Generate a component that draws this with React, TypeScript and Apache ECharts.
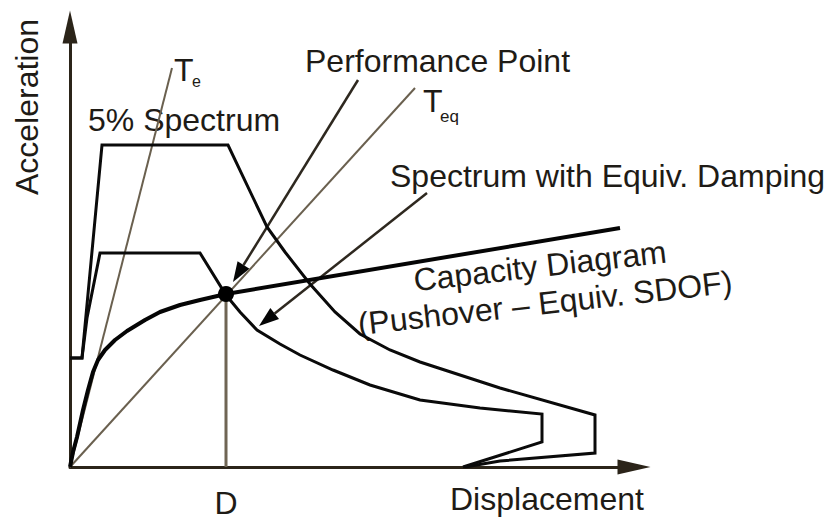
import React, { useEffect, useRef } from 'react';
import * as echarts from 'echarts';

// Schematic capacity-spectrum data: [displacement, acceleration] in chart units
const spectrum5pct: [number, number][] = [
  [0, 109], [12, 109], [32, 322], [158, 322], [197, 240], [215, 215], [240, 183],
  [265, 155], [290, 133], [320, 117], [350, 105], [430, 79], [525, 52],
  [525, 14], [430, 6], [395, 0],
];
const spectrumEquivDamping: [number, number][] = [
  [0, 109], [12, 109], [17, 149], [30, 214], [130, 214], [156, 172], [170, 155],
  [187, 137], [210, 123], [230, 112], [263, 97], [300, 82], [350, 67], [410, 59],
  [472, 53], [472, 25], [393, 0],
];
const capacityDiagram: [number, number][] = [
  [0, 0], [3, 15], [7, 30], [13, 57], [18, 77], [23, 95], [28, 107], [35, 117],
  [45, 127], [57, 136], [75, 147], [90, 155], [110, 162], [130, 167], [156, 173],
  [550, 239],
];
const performancePoint: [number, number][] = [[156, 173]];
const lineTe: [number, number][] = [[0, 0], [102, 399]];
const lineTeq: [number, number][] = [[0, 0], [345, 379]];
const lineD: [number, number][] = [[156, 0], [156, 173]];
// pointer arrows: [tailX, tailY, tipX, tipY]
const pointerArrows: number[][] = [
  [288, 387, 163, 185],
  [357, 274, 189, 141],
];
const xTickValues = [156];
const xTickLabels = ['D'];

const FONT = '"Liberation Sans", Arial, Helvetica, sans-serif';
const TXT = '#1e1b16';

export default function App() {
  const ref = useRef<HTMLDivElement>(null);
  useEffect(() => {
    if (!ref.current) return;
    const chart = echarts.init(ref.current, undefined, { renderer: 'svg' });
    const axisColor = '#2b2419';
    const txt = (text: string, x: number, y: number, extra: any = {}, size = 32, align = 'left') => ({
      type: 'text',
      x,
      y,
      ...extra,
      style: {
        text,
        fontSize: size,
        fontFamily: FONT,
        fill: TXT,
        align,
        verticalAlign: 'middle',
        textAlign: align,
        textVerticalAlign: 'middle',
      },
    });
    const option: any = {
      animation: false,
      backgroundColor: '#ffffff',
      grid: { left: 70, top: 27, right: 206, bottom: 53 },
      xAxis: {
        type: 'value',
        min: 0,
        max: 564,
        splitLine: { show: false },
        axisTick: { show: false },
        axisLabel: {
          show: true,
          customValues: xTickValues,
          formatter: (v: number) => xTickLabels[xTickValues.indexOf(v)] ?? '',
          fontSize: 32,
          fontFamily: FONT,
          color: TXT,
          margin: 20,
        },
        axisLine: {
          show: true,
          onZero: false,
          symbol: ['none', 'triangle'],
          symbolSize: [15, 33],
          lineStyle: { color: axisColor, width: 3 },
        },
      },
      yAxis: {
        type: 'value',
        min: 0,
        max: 440,
        splitLine: { show: false },
        axisTick: { show: false },
        axisLabel: { show: false },
        axisLine: {
          show: true,
          onZero: false,
          symbol: ['none', 'triangle'],
          symbolSize: [15, 33],
          lineStyle: { color: axisColor, width: 3 },
        },
      },
      series: [
        {
          type: 'line', name: 'Te', data: lineTe, showSymbol: false,
          lineStyle: { color: '#6a604f', width: 2 },
        },
        {
          type: 'line', name: 'Teq', data: lineTeq, showSymbol: false,
          lineStyle: { color: '#6a604f', width: 2 },
        },
        {
          type: 'line', name: 'D', data: lineD, showSymbol: false,
          lineStyle: { color: '#6f6554', width: 3 },
        },
        {
          type: 'line', name: '5% Spectrum', data: spectrum5pct, showSymbol: false,
          lineStyle: { color: '#0a0a0a', width: 3, join: 'miter' },
        },
        {
          type: 'line', name: 'Spectrum with Equiv. Damping', data: spectrumEquivDamping, showSymbol: false,
          lineStyle: { color: '#0a0a0a', width: 3, join: 'miter' },
        },
        {
          type: 'line', name: 'Capacity Diagram', data: capacityDiagram, showSymbol: false,
          lineStyle: { color: '#050505', width: 4 },
        },
        {
          type: 'custom',
          name: 'pointers',
          data: pointerArrows,
          renderItem: (params: any, api: any) => {
            const tail = api.coord([api.value(0), api.value(1)]);
            const tip = api.coord([api.value(2), api.value(3)]);
            const dx = tip[0] - tail[0];
            const dy = tip[1] - tail[1];
            const len = Math.hypot(dx, dy);
            const ux = dx / len;
            const uy = dy / len;
            const L = 20;
            const W = 7;
            const bx = tip[0] - ux * L;
            const by = tip[1] - uy * L;
            return {
              type: 'group',
              children: [
                {
                  type: 'line',
                  shape: { x1: tail[0], y1: tail[1], x2: bx, y2: by },
                  style: { stroke: '#2e281f', lineWidth: 2.5 },
                },
                {
                  type: 'polygon',
                  shape: {
                    points: [
                      [tip[0], tip[1]],
                      [bx - uy * W, by + ux * W],
                      [bx + uy * W, by - ux * W],
                    ],
                  },
                  style: { fill: '#050505' },
                },
              ],
            };
          },
        },
        {
          type: 'scatter', name: 'Performance Point', data: performancePoint,
          symbol: 'circle', symbolSize: 16, z: 5,
          itemStyle: { color: '#000000', opacity: 1 },
        },
      ],
      graphic: [
        txt('Acceleration', 27, 107, { rotation: Math.PI / 2 }, 32, 'center'),
        txt('5% Spectrum', 88, 120),
        txt('Performance Point', 305, 61),
        txt('T', 174, 70),
        txt('e', 192, 81, {}, 16),
        txt('T', 423, 101),
        txt('eq', 440, 116, {}, 17),
        txt('Spectrum with Equiv. Damping', 390, 176),
        txt('Capacity Diagram', 540, 266, { rotation: 0.113 }, 32, 'center'),
        txt('(Pushover – Equiv. SDOF)', 545, 303, { rotation: 0.113 }, 32, 'center'),
        txt('Displacement', 450, 499),
      ],
    };
    chart.setOption(option);
    return () => chart.dispose();
  }, []);
  return (
    <div
      ref={ref}
      style={{ position: 'fixed', left: 0, top: 0, width: 840, height: 520, background: '#fff' }}
    />
  );
}
